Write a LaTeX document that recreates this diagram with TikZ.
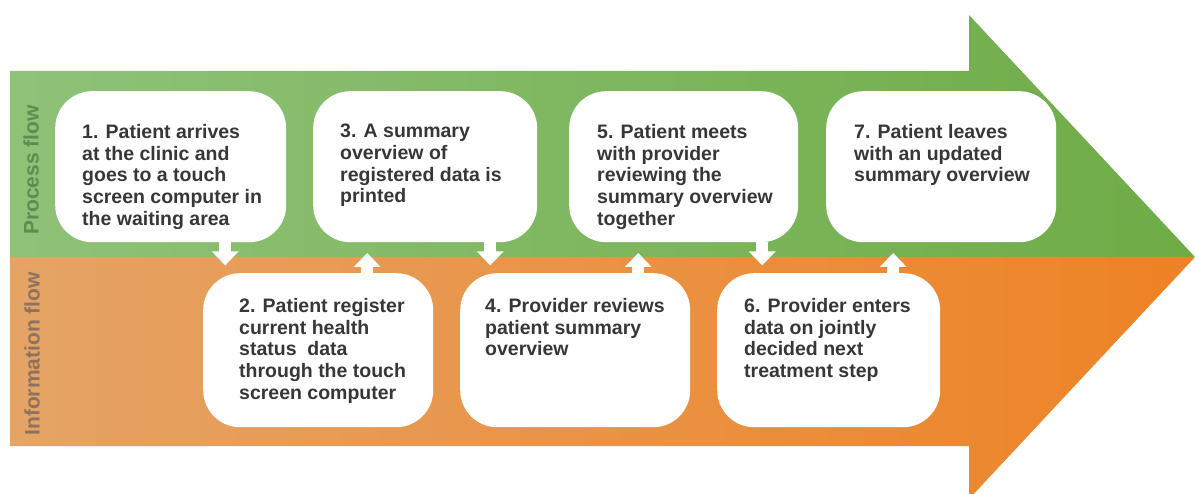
\documentclass[tikz,border=0pt]{standalone}
\usepackage{fontspec}
\setmainfont{Liberation Sans}
\usetikzlibrary{arrows.meta}
\definecolor{greenL}{RGB}{143,194,120}
\definecolor{greenR}{RGB}{110,172,70}
\definecolor{orangeL}{RGB}{229,164,102}
\definecolor{orangeR}{RGB}{238,130,36}
\definecolor{txt}{RGB}{55,55,55}
\definecolor{proclab}{RGB}{95,140,80}
\definecolor{infolab}{RGB}{140,115,95}
\begin{document}
\begin{tikzpicture}[x=1pt,y=-1pt,
  box/.style={fill=white, rounded corners=37pt, draw=none, anchor=north west, inner sep=0pt},
  boxtext/.style={anchor=north west, inner sep=0pt, align=left, text=txt, font=\fontsize{19.5}{21.7}\selectfont\bfseries},
  flowarrow/.style={draw=white, line width=12pt, -{Triangle[width=26pt,length=14pt]}},
  sidelab/.style={rotate=90, inner sep=0pt, font=\fontsize{21}{24}\selectfont\bfseries}]
\useasboundingbox (0,0) rectangle (1195,494);
% big arrow
\shade[left color=greenL, right color=greenR] (10,71) -- (969,71) -- (969,15) -- (1195,257) -- (10,257) -- cycle;
\shade[left color=orangeL, right color=orangeR] (10,257) -- (1195,257) -- (969,499) -- (969,446) -- (10,446) -- cycle;
% side labels
\node[sidelab, text=proclab] (pl) at (31,170) {Process flow};
\node[sidelab, text=infolab] (il) at (32,354) {Information flow};
% boxes top row
\node[box, minimum width=231pt, minimum height=151pt] (b1) at (55,91) {};
\node[box, minimum width=224pt, minimum height=151pt] (b3) at (313,91) {};
\node[box, minimum width=229pt, minimum height=151pt] (b5) at (569,91) {};
\node[box, minimum width=230pt, minimum height=151pt] (b7) at (826,91) {};
% boxes bottom row
\node[box, minimum width=230pt, minimum height=154pt] (b2) at (203,273) {};
\node[box, minimum width=230pt, minimum height=154pt] (b4) at (460,273) {};
\node[box, minimum width=223pt, minimum height=154pt] (b6) at (717,273) {};
% arrows
\draw[flowarrow] ([xshift=54.5pt]b1.south) -- ++(0,23);
\draw[flowarrow] ([xshift=65pt]b3.south) -- ++(0,23);
\draw[flowarrow] ([xshift=78.5pt]b5.south) -- ++(0,23);
\draw[flowarrow] ([xshift=49pt]b2.north) -- ++(0,-20);
\draw[flowarrow] ([xshift=63pt]b4.north) -- ++(0,-20);
\draw[flowarrow] ([xshift=64.5pt]b6.north) -- ++(0,-20);
% texts
\node[boxtext] (t1) at (82,124) {1. Patient arrives\\at the clinic and\\goes to a touch\\screen computer in\\the waiting area};
\node[boxtext] (t3) at (340,124) {3. A summary\\overview of\\registered data is\\printed};
\node[boxtext] (t5) at (597,124) {5. Patient meets\\with provider\\reviewing the\\summary overview\\together};
\node[boxtext] (t7) at (854,124) {7. Patient leaves\\with an updated\\summary overview};
\node[boxtext] (t2) at (239,298) {2. Patient register\\current health\\status\ \ data\\through the touch\\screen computer};
\node[boxtext] (t4) at (485,298) {4. Provider reviews\\patient summary\\overview};
\node[boxtext] (t6) at (744,298) {6. Provider enters\\data on jointly\\decided next\\treatment step};
\end{tikzpicture}
\end{document}
